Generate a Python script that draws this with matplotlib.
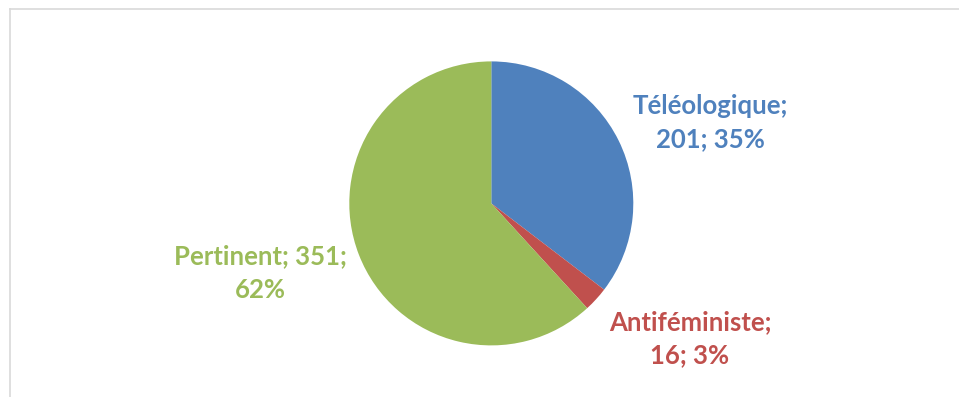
import matplotlib
matplotlib.use("Agg")
import matplotlib.pyplot as plt
from matplotlib.lines import Line2D

categories = ["Téléologique", "Antiféministe", "Pertinent"]
counts = [201, 16, 351]
colors = ["#4F81BD", "#C0504D", "#9BBB59"]
# where each label wraps onto a second line (after which "; "-separated part)
wrap_after = [1, 1, 2]

W, H = 959, 397
fig = plt.figure(figsize=(W / 100, H / 100), dpi=100)
ax = fig.add_axes([0, 0, 1, 1])

ax.pie(counts, colors=colors, startangle=90, counterclock=False,
       center=(491.3, H - 203.4), radius=142, frame=True,
       wedgeprops=dict(linewidth=0))
ax.set_xlim(0, W)
ax.set_ylim(0, H)
ax.set_aspect("equal")
ax.axis("off")

total = sum(counts)
label_pos = [(710, H - 123), (690, H - 339), (260, H - 273)]
for name, val, col, wrap, (lx, ly) in zip(categories, counts, colors, wrap_after, label_pos):
    pct = round(100 * val / total)
    parts = [name, str(val), f"{pct}%"]
    text = "; ".join(parts[:wrap]) + ";\n" + "; ".join(parts[wrap:])
    ax.text(lx, ly, text, color=col, ha="center", va="center",
            fontsize=18.5, fontweight="bold", family="Lato", linespacing=1.45)

# light chart-area border on the top and left edges
border = "#D9D9D9"
fig.add_artist(Line2D([9.5 / W, 1], [1 - 8.5 / H, 1 - 8.5 / H], color=border,
                      linewidth=1.2, transform=fig.transFigure))
fig.add_artist(Line2D([9.5 / W, 9.5 / W], [0, 1 - 8.5 / H], color=border,
                      linewidth=1.2, transform=fig.transFigure))

fig.savefig("out.png", dpi=100, facecolor="white")
